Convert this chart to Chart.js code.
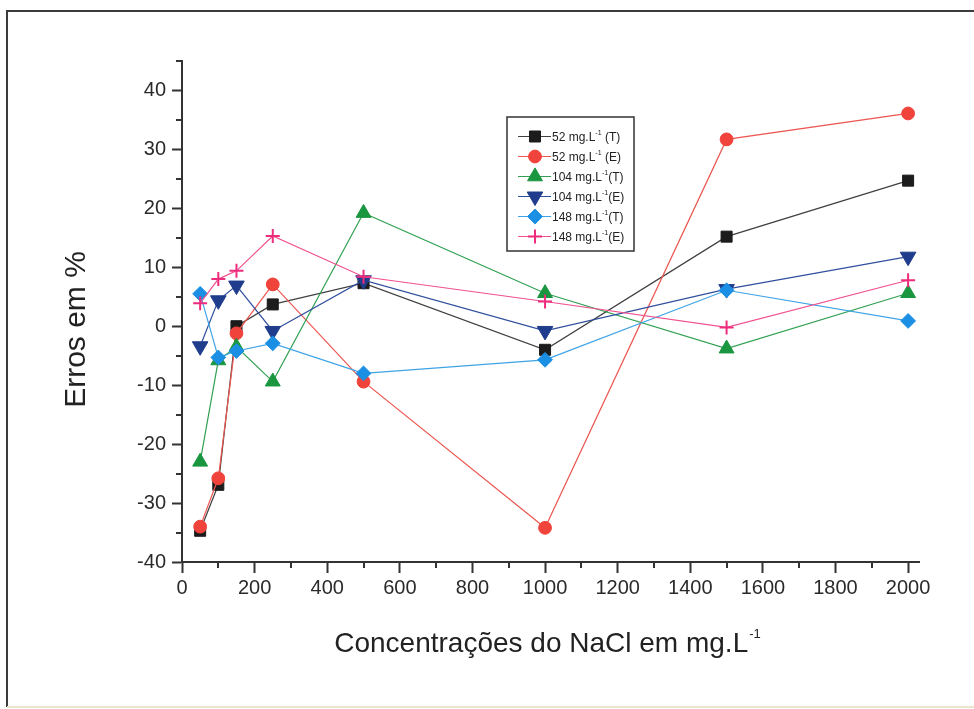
<!DOCTYPE html>
<html><head><meta charset="utf-8">
<script src="https://cdn.jsdelivr.net/npm/chart.js@4.4.1/dist/chart.umd.min.js"></script>
<style>html,body{margin:0;padding:0;background:#fff;}#wrap{width:974px;height:709px;position:relative;}canvas{display:block;}</style>
</head><body><div id="wrap"><canvas id="c" width="974" height="709"></canvas></div>
<script>
// ---- data ----
const concentrations = [50, 100, 150, 250, 500, 1000, 1500, 2000];
const err52T  = [-34.7, -26.9,  0.0,  3.7,  7.3,  -4.0, 15.2, 24.7];
const err52E  = [-34.0, -25.8, -1.2,  7.1, -9.4, -34.2, 31.7, 36.1];
const err104T = [-23.0,  -5.8, -3.5, -9.4, 19.2,   5.6, -3.8,  5.6];
const err104E = [ -3.4,   4.4,  6.9, -0.8,  7.8,  -0.8,  6.3, 11.8];
const err148T = [  5.5,  -5.3, -4.2, -2.9, -8.0,  -5.7,  6.1,  0.9];
const err148E = [  3.9,   8.0,  9.4, 15.3,  8.4,   4.2, -0.2,  7.8];
const legendPrefix = ['52 mg.L', '52 mg.L', '104 mg.L', '104 mg.L', '148 mg.L', '148 mg.L'];
const legendSup = '-1';
const legendSuffix = [' (T)', ' (E)', '(T)', '(E)', '(T)', '(E)'];
const xMajorTicks = [0, 200, 400, 600, 800, 1000, 1200, 1400, 1600, 1800, 2000];
const xMinorTicks = [100, 300, 500, 700, 900, 1100, 1300, 1500, 1700, 1900];
const yMajorTicks = [-40, -30, -20, -10, 0, 10, 20, 30, 40];
const yMinorTicks = [-35, -25, -15, -5, 5, 15, 25, 35, 45];
const xTitle = 'Concentrações do NaCl em mg.L';
const xTitleSup = '-1';
const yTitle = 'Erros em %';

// ---- styles ----
const FONT = '"Liberation Sans", Arial, sans-serif';
const seriesValues = [err52T, err52E, err104T, err104E, err148T, err148E];
const styles = [
  {ps:'rect', r:7.8, rot:0, fill:'#1c1c1c', line:'#404040', bw:1},
  {ps:'circle', r:6.4, rot:0, fill:'#f0433b', line:'#ec5650', bw:1},
  {ps:'triangle', r:8.6, rot:0, fill:'#19963f', line:'#31a052', bw:1},
  {ps:'triangle', r:9, rot:180, fill:'#1f3d8c', line:'#2f4f9e', bw:1},
  {ps:'rectRot', r:7.4, rot:0, fill:'#1b8fe3', line:'#3ea3e6', bw:1},
  {ps:'cross', r:7, rot:0, fill:'#ee2c7c', line:'#f0518f', bw:2}
];

const datasets = seriesValues.map((vals, i) => ({
  label: legendPrefix[i] + '⁻¹' + legendSuffix[i],
  data: concentrations.map((c, k) => ({x: c, y: vals[k]})),
  showLine: true,
  borderColor: styles[i].line,
  borderWidth: 1.2,
  backgroundColor: styles[i].fill,
  pointStyle: styles[i].ps,
  pointRadius: styles[i].r,
  pointRotation: styles[i].rot,
  pointBackgroundColor: styles[i].fill,
  pointBorderColor: styles[i].fill,
  pointBorderWidth: styles[i].bw,
  order: 5 - i
}));

const decor = {
  id: 'decor',
  beforeDraw(chart) {
    const ctx = chart.ctx;
    ctx.save();
    ctx.fillStyle = '#fff';
    ctx.fillRect(0, 0, chart.width, chart.height);
    ctx.strokeStyle = '#3c3c3c';
    ctx.lineWidth = 2;
    ctx.beginPath();
    ctx.moveTo(chart.width, 11); ctx.lineTo(7, 11); ctx.lineTo(7, 707);
    ctx.stroke();
    ctx.strokeStyle = '#ece6cc';
    ctx.beginPath(); ctx.moveTo(7, 707); ctx.lineTo(chart.width, 707); ctx.stroke();
    ctx.restore();
  },
  afterDraw(chart) {
    const ctx = chart.ctx, xs = chart.scales.x, ys = chart.scales.y, ca = chart.chartArea;
    ctx.save();
    // minor ticks
    ctx.strokeStyle = '#333'; ctx.lineWidth = 2;
    ctx.beginPath();
    xMinorTicks.forEach(v => { const p = Math.round(xs.getPixelForValue(v)); ctx.moveTo(p, ca.bottom); ctx.lineTo(p, ca.bottom + 6); });
    yMinorTicks.forEach(v => { const p = Math.round(ys.getPixelForValue(v)); ctx.moveTo(ca.left, p); ctx.lineTo(ca.left - 6, p); });
    ctx.stroke();

    // x title with superscript
    ctx.fillStyle = '#222';
    ctx.textBaseline = 'alphabetic';
    ctx.textAlign = 'left';
    ctx.font = '28px ' + FONT;
    const w1 = ctx.measureText(xTitle).width;
    ctx.font = '13px ' + FONT;
    const w2 = ctx.measureText(xTitleSup).width;
    const cx = (ca.left + ca.right) / 2 - 3;
    let sx = cx - (w1 + w2 + 1) / 2;
    ctx.font = '28px ' + FONT;
    ctx.fillText(xTitle, sx, 652);
    ctx.font = '13px ' + FONT;
    ctx.fillText(xTitleSup, sx + w1 + 1, 638);

    // y title
    ctx.save();
    ctx.translate(85, (ca.top + ca.bottom) / 2 + 18);
    ctx.rotate(-Math.PI / 2);
    ctx.textAlign = 'center';
    ctx.font = '30px ' + FONT;
    ctx.fillText(yTitle, 0, 0);
    ctx.restore();

    // legend box
    const lx = ca.left + 325, ly = ca.top + 56, lw = 127, lh = 134;
    ctx.strokeStyle = '#333'; ctx.lineWidth = 1.5;
    ctx.fillStyle = '#fff';
    ctx.fillRect(lx, ly, lw, lh);
    ctx.strokeRect(lx, ly, lw, lh);
    chart.data.datasets.forEach((ds, i) => {
      const y = ly + 19.5 + i * 20;
      const st = styles[i];
      ctx.strokeStyle = st.line; ctx.lineWidth = 1.2;
      ctx.beginPath(); ctx.moveTo(lx + 11, y); ctx.lineTo(lx + 44, y); ctx.stroke();
      ctx.fillStyle = st.fill; ctx.strokeStyle = st.fill; ctx.lineWidth = st.bw;
      Chart.helpers.drawPoint(ctx, {pointStyle: st.ps, radius: st.r, rotation: st.rot, borderWidth: st.bw}, lx + 28, y);
      ctx.fillStyle = '#222';
      ctx.textAlign = 'left'; ctx.textBaseline = 'alphabetic';
      ctx.font = '12px ' + FONT;
      const tx = lx + 45;
      ctx.fillText(legendPrefix[i], tx, y + 4);
      const pw = ctx.measureText(legendPrefix[i]).width;
      ctx.font = '7px ' + FONT;
      ctx.fillText(legendSup, tx + pw, y - 2);
      const sw = ctx.measureText(legendSup).width;
      ctx.font = '12px ' + FONT;
      ctx.fillText(legendSuffix[i], tx + pw + sw, y + 4);
    });
    ctx.restore();
  }
};

new Chart(document.getElementById('c'), {
  type: 'scatter',
  data: { datasets },
  options: {
    responsive: false,
    animation: false,
    devicePixelRatio: 1,
    layout: { padding: { left: 0, top: 61, right: 55, bottom: 0 } },
    plugins: { legend: { display: false }, tooltip: { enabled: false } },
    scales: {
      x: {
        type: 'linear', position: 'bottom', min: 0, max: 2030,
        afterFit(s) { s.height = 147; },
        afterBuildTicks(s) { s.ticks = xMajorTicks.map(v => ({value: v})); },
        border: { display: true, color: '#333', width: 2 },
        grid: { display: true, drawOnChartArea: false, drawTicks: true, tickLength: 11, tickColor: '#333', tickWidth: 2 },
        ticks: { autoSkip: false, maxRotation: 0, padding: 3, color: '#2a2a2a', font: { family: FONT, size: 20 }, callback: v => String(v) }
      },
      y: {
        type: 'linear', min: -40, max: 45,
        afterFit(s) { s.width = 182; },
        afterBuildTicks(s) { s.ticks = yMajorTicks.map(v => ({value: v})); },
        border: { display: true, color: '#333', width: 2 },
        grid: { display: true, drawOnChartArea: false, drawTicks: true, tickLength: 10, tickColor: '#333', tickWidth: 2 },
        ticks: { autoSkip: false, padding: 6, color: '#2a2a2a', font: { family: FONT, size: 20 }, callback: v => String(v) }
      }
    }
  },
  plugins: [decor]
});
</script>
</body></html>
